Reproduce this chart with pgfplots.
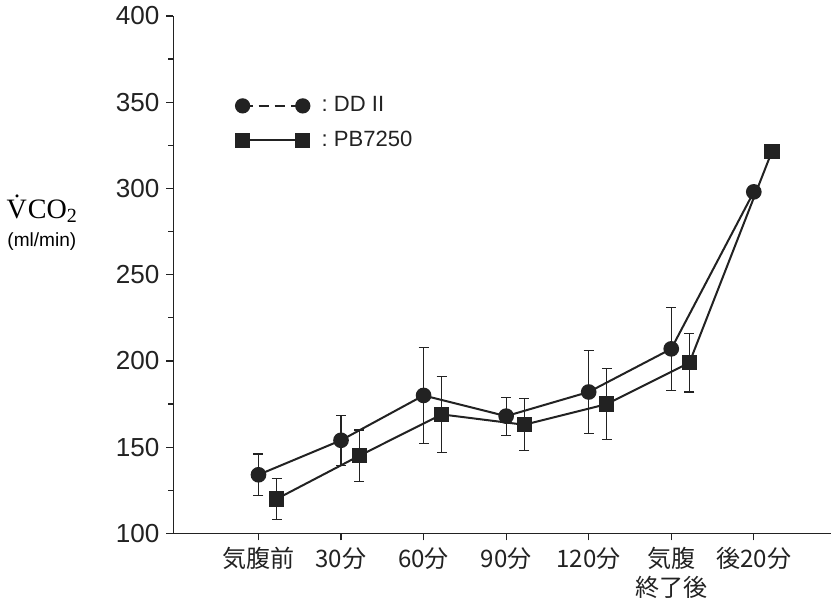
\documentclass[border=0pt]{standalone}
\usepackage{pgfplots}
\pgfplotsset{compat=1.18}
\usepackage{fontspec}
\setmainfont{Liberation Sans}
\newfontfamily\jp{Noto Sans CJK JP}
\newfontfamily\serif{Liberation Serif}
\definecolor{ink}{HTML}{222222}
\begin{document}
\begin{tikzpicture}
\begin{axis}[
  scale only axis, width=328pt, height=258pt,
  xmin=-1.03, xmax=6.94, ymin=100, ymax=400,
  axis x line=bottom, axis y line=left,
  axis line style={-, line width=0.6pt, ink},
  xtick={0,...,6},
  xticklabels={気腹前,30分,60分,90分,120分,気腹\\終了後,後20分},
  xticklabel style={font=\jp\fontsize{12}{14.5}\selectfont, align=center, anchor=north, text=ink},
  ytick={100,150,...,400}, minor ytick={125,175,...,375},
  yticklabel style={font=\fontsize{13}{15}\selectfont, text=ink},
  /pgf/number format/assume math mode=true,
  tick align=outside, major tick length=3.5pt, minor tick length=2.5pt,
  tick style={ink, line width=0.6pt},
  every axis y label/.style={at={(rel axis cs:-0.2,0.6)}, anchor=center, align=center},
  ylabel={{\serif\fontsize{14}{16}\selectfont \.{V}\kern0.5pt CO\raisebox{-0.25ex}{\fontsize{10}{12}\selectfont 2}}\\[2pt]{\fontsize{9.5}{11}\selectfont (ml/min)}},
  legend style={at={(rel axis cs:0.085,0.86)}, anchor=north west, draw=none, fill=none,
    font=\fontsize{11}{13}\selectfont, row sep=4pt, cells={anchor=west}, text=ink},
  legend image code/.code={\draw[#1, mark repeat=1, mark options={solid}] plot coordinates {(0pt,0pt) (30pt,0pt)};},
]
\addlegendimage{ink, line width=0.8pt, dash pattern=on 5pt off 3pt, mark=*, mark size=3.4pt}
\addlegendentry{\hspace{4pt}:\ DD II}
\addlegendimage{ink, line width=0.8pt, mark=square*, mark size=3.3pt}
\addlegendentry{\hspace{4pt}:\ PB7250}

\addplot[forget plot, ink, line width=1pt, mark=*, mark size=3.4pt,
  error bars/.cd, y dir=both, y explicit,
  error bar style={line width=0.6pt, ink},
  error mark options={rotate=90, mark size=2.5pt, line width=0.6pt, ink}]
  table[x=x, y=y, y error=e] {
  x y e
  0 134 12
  1 154 14.5
  2 180 28
  3 168 11
  4 182 24
  5 207 24
  6 298 0
};
\addplot[forget plot, ink, line width=1pt, mark=square*, mark size=3.3pt,
  error bars/.cd, y dir=both, y explicit,
  error bar style={line width=0.6pt, ink},
  error mark options={rotate=90, mark size=2.5pt, line width=0.6pt, ink}]
  table[x=x, y=y, y error=e] {
  x y e
  0.22 120 12
  1.22 145 15
  2.22 169 22
  3.22 163 15
  4.22 175 20.5
  5.22 199 17
  6.22 321.5 0
};
\end{axis}
\end{tikzpicture}
\end{document}
